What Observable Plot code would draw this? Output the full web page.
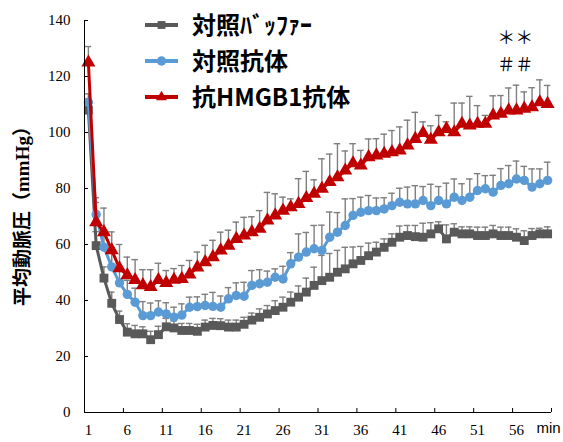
<!DOCTYPE html>
<html><head><meta charset="utf-8">
<script src="https://cdn.jsdelivr.net/npm/d3@7"></script>
<script src="https://cdn.jsdelivr.net/npm/@observablehq/plot@0.6"></script>
<style>
html,body{margin:0;padding:0;background:#fff;}
#wrap{position:relative;width:563px;height:442px;overflow:hidden;}
#wrap svg{display:block;}
#legend{position:absolute;left:0;top:0;pointer-events:none;}
</style></head><body><div id="wrap"></div>
<script>
const minutes = [1,2,3,4,5,6,7,8,9,10,11,12,13,14,15,16,17,18,19,20,21,22,23,24,25,26,27,28,29,30,31,32,33,34,35,36,37,38,39,40,41,42,43,44,45,46,47,48,49,50,51,52,53,54,55,56,57,58,59,60];

const bufferMean = [108,59.6,48,39,33.2,28.7,28.1,28.1,26,27.8,30.6,30.2,29.3,29.3,29,30.5,31.1,31,30.5,30.5,31.5,33,34,35.2,36.4,37.6,39.4,41.2,43,45.4,47.1,48.3,50.1,51.3,53.1,54.3,56,57.3,59,60.8,62.6,63.2,62.8,62.6,63.8,65.6,62,64.4,63.8,63.8,63.2,63.2,63.8,63.2,63.2,62.6,61.4,63.2,63.8,63.8];
const bufferErr = [4,5,4,4,3,3,3,2.5,3,3,3,2.5,2.5,2.5,2.5,2.5,2.5,2.5,2.5,2.5,2.5,2.5,3,3,3.5,3.6,3.6,4,5,6.5,9,8.5,7.8,7.7,6,5,4.5,3.5,3,3,4,3.6,4,5,4,2.5,5,3,2.5,2.5,3,3,3,3,3,3,3.5,2.5,2,2.5];

const controlMean = [110.8,70.7,59,52,46.3,42.2,39.4,34.6,34.6,35.9,35.2,34,34.8,37.6,37.8,38.2,37.9,37.6,40.6,41.8,41.5,45.4,46,46.5,48.3,47.7,53.1,55.5,57.3,58.5,57.9,62.6,64.4,66.8,70.4,71.5,72.1,72.1,72.7,73.9,75.1,74.5,74.5,75.7,73.9,75.7,74.5,76.9,75.7,76.9,79.3,79.9,78.7,81.1,81.7,83.4,82.9,80.5,81.7,82.9];
const controlErr = [3,6,6,5,5,5,5,5,4.5,4,4,3.6,4,3.6,3.5,4,5,4,4,4.5,5,5.3,5,4,3,4.5,4,8.3,7,8.3,9,9,7,9.5,6,5.4,5.4,4.5,4,4.4,5,6,6.5,5,7.6,5,7.4,6.5,6,6.5,6,4.7,6,6,6.5,6.4,5,6.5,5.3,6.5];

const hmgbMean = [125,68,64.4,58,51.5,49,47.3,45.5,44.8,47.3,46.3,47.4,47.7,49.3,51.8,53.7,55.5,57.9,59.6,62,63.2,64.4,65.6,68.6,70.4,72.1,73.3,74.5,76.6,78.1,79.9,82.3,84,86.4,89,88.2,91.2,91.8,92.4,93,93.6,95.4,97.7,99.8,97.4,100.1,101.3,100.1,103.1,102.5,103.1,103.1,106.1,106.7,107.9,107.9,108.5,109,110.8,110.2];
const hmgbErr = [5.7,7,8.6,6.5,8.5,6.5,7.3,5.5,6.2,6,4.4,4,4.8,5,5.5,6,6,6.5,5.5,6,6.5,5.5,6.5,10,7.7,4.8,3,9,9.5,5,10.7,10,12,7,7,5.4,6.5,6,7,7.7,8.4,9,9.5,4,5,6,2.5,10.4,7.4,10.4,6.5,3,7,6.5,8,9,6,7,8,6.6];

const seriesNames = ["対照ﾊﾞｯﾌｧｰ", "対照抗体", "抗HMGB1抗体"];
const seriesColors = ["#595959", "#5B9BD5", "#C00000"];
const seriesSymbols = ["square", "circle", "triangle"];
const seriesRadius = [5, 4.7, 5.2];

const xTickLabels = [1,6,11,16,21,26,31,36,41,46,51,56];
const xTickMarks = [5.5,10.5,15.5,20.5,25.5,30.5,35.5,40.5,45.5,50.5,55.5,60.5];
const yTicks = [0,20,40,60,80,100,120,140];
const yTitle = "平均動脈圧（mmHg）";
const xUnit = "min";
const annotations = [{x: 55.85, y: 133.6, text: "＊＊"}, {x: 55.85, y: 124, text: "＃＃"}];

const means = [bufferMean, controlMean, hmgbMean];
const errs = [bufferErr, controlErr, hmgbErr];
const series = seriesNames.map((name, s) => minutes.map((m, i) => ({series: name, x: m, y: means[s][i], err: errs[s][i]})));

const errColor = "#7f7f7f";
const marks = [];
series.forEach((rows, s) => {
  marks.push(Plot.ruleX(rows, {x: "x", y1: "y", y2: d => d.y + d.err, stroke: errColor, strokeWidth: 1.4}));
  marks.push(Plot.ruleY(rows, {y: d => d.y + d.err, x1: d => d.x - 0.42, x2: d => d.x + 0.42, stroke: errColor, strokeWidth: 1.4}));
});
series.forEach((rows, s) => {
  marks.push(Plot.line(rows, {x: "x", y: "y", stroke: seriesColors[s], strokeWidth: 3}));
  marks.push(Plot.dot(rows, {x: "x", y: "y", symbol: seriesSymbols[s], fill: seriesColors[s], stroke: "none", r: seriesRadius[s]}));
});

const chart = Plot.plot({
  width: 563,
  height: 442,
  marginLeft: 84,
  marginRight: 12,
  marginTop: 20,
  marginBottom: 30,
  style: {fontFamily: "'Liberation Serif', 'Times New Roman', serif", fontSize: "15px", color: "#000", background: "#fff"},
  x: {type: "linear", domain: [0.5, 60.5], label: null},
  y: {type: "linear", domain: [0, 140], label: null},
  marks: [
    Plot.axisY({ticks: yTicks, tickSize: 0, tickPadding: 14, label: null, fontSize: 15}),
    Plot.axisY({ticks: yTicks, tickSize: 4, tickFormat: () => "", dx: 4, label: null, stroke: "#000"}),
    Plot.axisX({ticks: xTickLabels, tickSize: 0, tickPadding: 12, label: null, fontSize: 15}),
    Plot.axisX({ticks: xTickMarks, tickSize: 4, tickFormat: () => "", dy: -4, label: null, stroke: "#000"}),
    ...marks,
    Plot.ruleX([0.5], {stroke: "#000", strokeWidth: 1}),
    Plot.ruleY([0], {stroke: "#000", strokeWidth: 1}),
    Plot.text([yTitle], {text: d => d, frameAnchor: "left", textAnchor: "middle", rotate: -90, dx: -62, dy: -5, fontWeight: "bold", fontSize: 19, fontFamily: "'Liberation Serif', 'Noto Sans CJK JP', serif", fill: "#000"}),
    Plot.text([xUnit], {text: d => d, frameAnchor: "bottom-right", dx: -3, dy: 20, textAnchor: "middle", fontSize: 15, fontFamily: "'Liberation Sans', Arial, sans-serif", fill: "#000"}),
    Plot.text(annotations, {x: "x", y: "y", text: "text", fontSize: 18, fontFamily: "'Noto Sans CJK JP', sans-serif", fill: "#000", lineHeight: 1})
  ]
});
const wrap = document.getElementById("wrap");
wrap.appendChild(chart);

// legend overlay
const ns = "http://www.w3.org/2000/svg";
const leg = document.createElementNS(ns, "svg");
leg.setAttribute("id", "legend");
leg.setAttribute("width", 563);
leg.setAttribute("height", 442);
const lx1 = 145, lx2 = 178, tx = 192, y0 = 25, dyRow = 36;
seriesNames.forEach((name, s) => {
  const cy = y0 + s * dyRow;
  const g = d3.select(leg).append("g");
  g.append("line").attr("x1", lx1).attr("x2", lx2).attr("y1", cy).attr("y2", cy)
    .attr("stroke", seriesColors[s]).attr("stroke-width", 4);
  const sym = {square: d3.symbolSquare2, circle: d3.symbolCircle, triangle: d3.symbolTriangle2}[seriesSymbols[s]];
  const r = seriesRadius[s];
  g.append("path").attr("d", d3.symbol(sym, Math.PI * r * r)())
    .attr("transform", `translate(${(lx1 + lx2) / 2},${cy})`).attr("fill", seriesColors[s]);
  g.append("text").attr("x", tx).attr("y", cy).attr("dy", "0.36em")
    .attr("font-family", "'Noto Sans CJK JP', sans-serif").attr("font-weight", "bold")
    .attr("font-size", 24).attr("fill", "#000").text(name);
});
wrap.appendChild(leg);
</script></body></html>
